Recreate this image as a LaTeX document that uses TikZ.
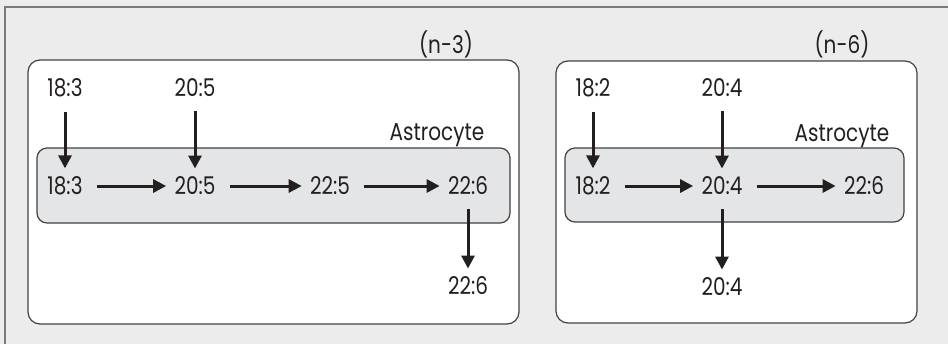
\documentclass[tikz,border=0pt]{standalone}
\usepackage{fontspec}
\setmainfont{Poppins}[FakeStretch=0.82]
\usetikzlibrary{arrows.meta}
\definecolor{panel}{HTML}{ECECEC}
\definecolor{cell}{HTML}{E4E5E7}
\definecolor{ink}{HTML}{231F20}

\begin{document}
\begin{tikzpicture}
  [x=0.5pt,y=0.5pt,
   every node/.style={text=ink,font=\fontsize{12.2}{14}\selectfont,inner sep=2pt},
   box/.style={draw=ink!85,line width=0.6pt,rounded corners=6pt},
   conv/.style={draw=ink,line width=1.5pt,-{Triangle[length=6.5pt,width=6.5pt]},shorten <=5pt,shorten >=2pt}]
\useasboundingbox (0,0) rectangle (948,344);
  \fill[panel] (0,0) rectangle (948,344);
  \draw[ink!60,line width=0.6pt] (5,0) -- (5,337) -- (948,337);

  % omega-3 side
  \draw[box,fill=white] (28,20) rectangle (519,284);
  \draw[box,fill=cell,rounded corners=5pt] (37,121) rectangle (510,196);
  \node (n3) at (446,300) {(n-3)};
  \node (ast3) at (437,209) {Astrocyte};
  \node (a1) at (65,256) {18:3};
  \node (a2) at (195,256) {20:5};
  \node (b1) at (65,158) {18:3};
  \node (b2) at (195,158) {20:5};
  \node (b3) at (330,158) {22:5};
  \node (b4) at (468,158) {22:6};
  \node (c4) at (468,58) {22:6};

  % omega-6 side
  \draw[box,fill=white] (556,21) rectangle (917,283);
  \draw[box,fill=cell,rounded corners=5pt] (565,122) rectangle (904,196);
  \node (n6) at (842,300) {(n-6)};
  \node (ast6) at (842,208) {Astrocyte};
  \node (p1) at (593,256) {18:2};
  \node (p2) at (722,256) {20:4};
  \node (q1) at (593,158) {18:2};
  \node (q2) at (722,158) {20:4};
  \node (q3) at (864,158) {22:6};
  \node (r2) at (722,57) {20:4};

  \foreach \from/\to in {a1/b1, a2/b2, b1/b2, b2/b3, b3/b4, b4/c4,
                         p1/q1, p2/q2, q1/q2, q2/q3, q2/r2}
    \draw[conv] (\from) -- (\to);
\end{tikzpicture}
\end{document}
